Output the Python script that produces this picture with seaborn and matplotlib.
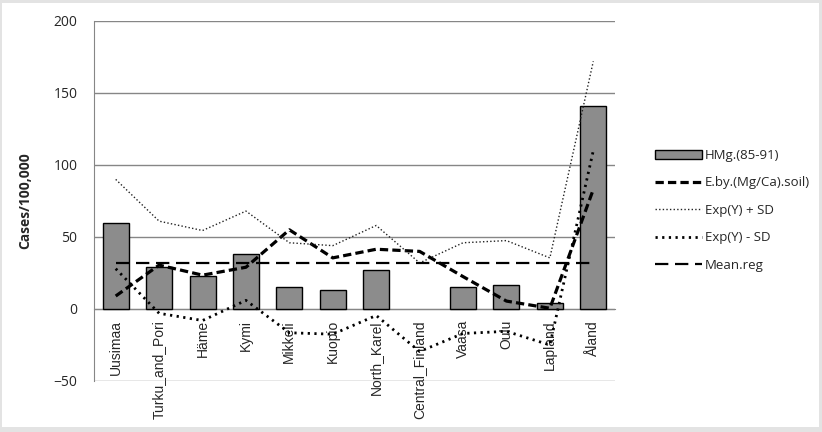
import numpy as np
import matplotlib
matplotlib.use("Agg")
from matplotlib import pyplot as plt
from matplotlib.patches import Rectangle, Patch
from matplotlib.lines import Line2D
import seaborn as sns

# data
regions = ["Uusimaa", "Turku_and_Pori", "Häme", "Kymi", "Mikkeli", "Kuopio",
           "North_Karel", "Central_Finland", "Vaasa", "Oulu", "Lapland", "Åland"]
hmg = [60, 29, 23, 38, 15, 13, 27, np.nan, 15, 16.5, 4, 141]
eby_soil = [9, 30.5, 23.5, 29, 55, 35.5, 41.5, 40, 22.5, 5.5, 0.5, 83]
exp_plus_sd = [90, 61, 54.5, 68, 46, 44, 58, 32, 46, 47.5, 35.5, 172]
exp_minus_sd = [28, -3, -8, 6, -16.5, -17.5, -4.5, -29.5, -17, -15.5, -25, 110]
mean_reg = [32] * len(regions)

sns.set_style("white")
plt.rcParams["font.family"] = ["Open Sans", "DejaVu Sans"]

fig = plt.figure(figsize=(8.22, 4.32), dpi=100)
fig.patch.set_facecolor("#e3e3e3")
# white chart area with thin gray frame
fig.add_artist(Rectangle((2/822, 5/432), 817/822, 424/432, transform=fig.transFigure,
                         facecolor="white", edgecolor="none", zorder=0))

ax = fig.add_axes([94/822, 1 - 381/432, 521/822, 360/432])
ax.set_facecolor("none")

x = np.arange(len(regions))
sns.barplot(x=x, y=hmg, color="#8c8c8c", saturation=1, width=0.6,
            edgecolor="black", linewidth=1, ax=ax, zorder=3)

sns.lineplot(x=x, y=eby_soil, color="black", lw=2.3, ax=ax, zorder=4,
             linestyle=(0, (2.6, 1.3)))
sns.lineplot(x=x, y=exp_plus_sd, color="#222222", lw=1.0, ax=ax, zorder=4,
             linestyle=(0, (1, 1.6)))
sns.lineplot(x=x, y=exp_minus_sd, color="black", lw=2.0, ax=ax, zorder=4,
             linestyle=(0, (0.8, 1.6)))
sns.lineplot(x=x, y=mean_reg, color="black", lw=1.6, ax=ax, zorder=4,
             linestyle=(0, (6, 3)))

ax.set_xlim(-0.5, len(regions) - 0.5)
ax.set_ylim(-50, 200)
ax.set_yticks([-50, 0, 50, 100, 150, 200])
ax.yaxis.grid(True, color="#868686", lw=1)
ax.set_axisbelow(True)

for s in ["top", "right"]:
    ax.spines[s].set_visible(False)
ax.spines["left"].set_color("#868686")
ax.spines["bottom"].set_color("#868686")
ax.spines["bottom"].set_position(("data", 0))

ax.set_xticks(x)
ax.set_xticklabels(regions, rotation=90, va="top", ha="center", fontsize=10,
                   family=["Liberation Sans", "DejaVu Sans"])
ax.set_xticks(np.arange(-0.5, len(regions)), minor=True)
ax.tick_params(axis="x", which="major", length=0, pad=8)
ax.tick_params(axis="x", which="minor", length=4, color="#868686", direction="out")
ax.tick_params(axis="y", length=5, color="#868686", direction="out", labelsize=10, pad=7)

ax.set_xlabel("")
ax.set_ylabel("Cases/100,000", fontsize=10, fontweight="bold", labelpad=15)

handles = [
    Patch(facecolor="#8c8c8c", edgecolor="black", lw=1),
    Line2D([], [], color="black", lw=2.3, linestyle=(0, (2.6, 1.3))),
    Line2D([], [], color="#222222", lw=1.0, linestyle=(0, (1, 1.6))),
    Line2D([], [], color="black", lw=2.0, linestyle=(0, (0.8, 1.6))),
    Line2D([], [], color="black", lw=1.6, linestyle=(0, (6, 3))),
]
labels = ["HMg.(85-91)", "E.by.(Mg/Ca).soil)", "Exp(Y) + SD", "Exp(Y) - SD", "Mean.reg"]
fig.legend(handles, labels, loc="upper left", bbox_to_anchor=(643/822, 1 - 137/432),
           frameon=False, fontsize=9.5, handlelength=3.6, handletextpad=0.2,
           labelspacing=1.1, handleheight=0.7)

fig.savefig("out.png", dpi=100, facecolor=fig.get_facecolor())
